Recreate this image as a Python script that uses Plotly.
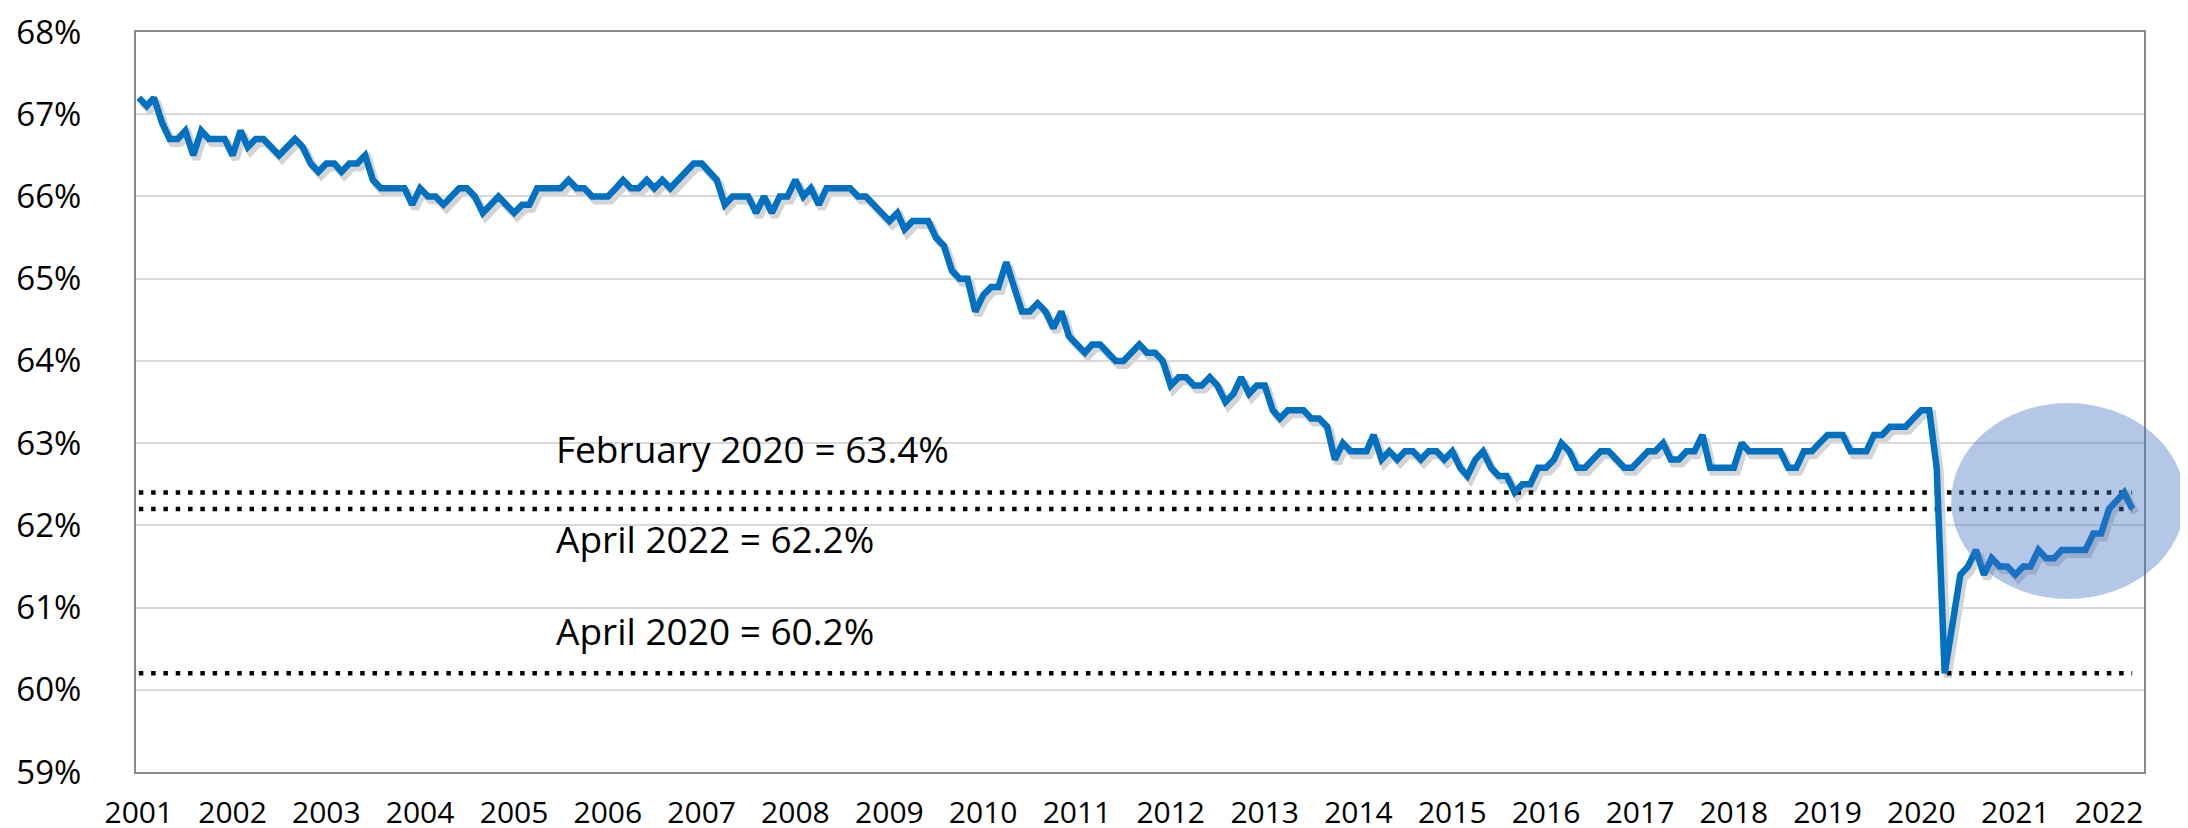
import pandas as pd
import plotly.graph_objects as go

# Labor force participation rate, monthly, Jan 2001 - Apr 2022 (%)
rate_2001 = [67.2, 67.1, 67.2, 66.9, 66.7, 66.7, 66.8, 66.5, 66.8, 66.7, 66.7, 66.7]
rate_2002 = [66.5, 66.8, 66.6, 66.7, 66.7, 66.6, 66.5, 66.6, 66.7, 66.6, 66.4, 66.3]
rate_2003 = [66.4, 66.4, 66.3, 66.4, 66.4, 66.5, 66.2, 66.1, 66.1, 66.1, 66.1, 65.9]
rate_2004 = [66.1, 66.0, 66.0, 65.9, 66.0, 66.1, 66.1, 66.0, 65.8, 65.9, 66.0, 65.9]
rate_2005 = [65.8, 65.9, 65.9, 66.1, 66.1, 66.1, 66.1, 66.2, 66.1, 66.1, 66.0, 66.0]
rate_2006 = [66.0, 66.1, 66.2, 66.1, 66.1, 66.2, 66.1, 66.2, 66.1, 66.2, 66.3, 66.4]
rate_2007 = [66.4, 66.3, 66.2, 65.9, 66.0, 66.0, 66.0, 65.8, 66.0, 65.8, 66.0, 66.0]
rate_2008 = [66.2, 66.0, 66.1, 65.9, 66.1, 66.1, 66.1, 66.1, 66.0, 66.0, 65.9, 65.8]
rate_2009 = [65.7, 65.8, 65.6, 65.7, 65.7, 65.7, 65.5, 65.4, 65.1, 65.0, 65.0, 64.6]
rate_2010 = [64.8, 64.9, 64.9, 65.2, 64.9, 64.6, 64.6, 64.7, 64.6, 64.4, 64.6, 64.3]
rate_2011 = [64.2, 64.1, 64.2, 64.2, 64.1, 64.0, 64.0, 64.1, 64.2, 64.1, 64.1, 64.0]
rate_2012 = [63.7, 63.8, 63.8, 63.7, 63.7, 63.8, 63.7, 63.5, 63.6, 63.8, 63.6, 63.7]
rate_2013 = [63.7, 63.4, 63.3, 63.4, 63.4, 63.4, 63.3, 63.3, 63.2, 62.8, 63.0, 62.9]
rate_2014 = [62.9, 62.9, 63.1, 62.8, 62.9, 62.8, 62.9, 62.9, 62.8, 62.9, 62.9, 62.8]
rate_2015 = [62.9, 62.7, 62.6, 62.8, 62.9, 62.7, 62.6, 62.6, 62.4, 62.5, 62.5, 62.7]
rate_2016 = [62.7, 62.8, 63.0, 62.9, 62.7, 62.7, 62.8, 62.9, 62.9, 62.8, 62.7, 62.7]
rate_2017 = [62.8, 62.9, 62.9, 63.0, 62.8, 62.8, 62.9, 62.9, 63.1, 62.7, 62.7, 62.7]
rate_2018 = [62.7, 63.0, 62.9, 62.9, 62.9, 62.9, 62.9, 62.7, 62.7, 62.9, 62.9, 63.0]
rate_2019 = [63.1, 63.1, 63.1, 62.9, 62.9, 62.9, 63.1, 63.1, 63.2, 63.2, 63.2, 63.3]
rate_2020 = [63.4, 63.4, 62.7, 60.2, 60.8, 61.4, 61.5, 61.7, 61.4, 61.6, 61.5, 61.5]
rate_2021 = [61.4, 61.5, 61.5, 61.7, 61.6, 61.6, 61.7, 61.7, 61.7, 61.7, 61.9, 61.9]
rate_2022 = [62.2, 62.3, 62.4, 62.2]

rate = (rate_2001 + rate_2002 + rate_2003 + rate_2004 + rate_2005 + rate_2006 +
        rate_2007 + rate_2008 + rate_2009 + rate_2010 + rate_2011 + rate_2012 +
        rate_2013 + rate_2014 + rate_2015 + rate_2016 + rate_2017 + rate_2018 +
        rate_2019 + rate_2020 + rate_2021 + rate_2022)
months = pd.date_range("2001-01-01", periods=len(rate), freq="MS")

# Reference (dotted) levels and their labels
ref_levels = [62.4, 62.2, 60.2]
ref_labels = ["February 2020 = 63.4%", "April 2022 = 62.2%", "April 2020 = 60.2%"]
label_y = [62.93, 61.84, 60.72]

year_ticks = pd.date_range("2001-01-01", "2022-01-01", freq="YS")
year_labels = [str(d.year) for d in year_ticks]
pct_ticks = list(range(59, 69))
pct_labels = [f"{v}%" for v in pct_ticks]

FONT = "Open Sans"
BLUE = "#0070C0"

W_FIG, H_FIG = 2188, 828
ML, MT = 128, 24
MR, MB = 49, 60
PW = W_FIG - ML - MR
PH = H_FIG - MT - MB
dx = 3.0 / PW
dy = 4.0 / PH

x_range = ["2000-12-21", "2022-05-17"]
y_range = [58.9999, 68.0001]

fig = go.Figure()

# soft shadow of the main line, drawn on hidden, slightly offset axes (x / y)
fig.add_trace(go.Scatter(
    x=months, y=rate, mode="lines", xaxis="x", yaxis="y",
    line=dict(color="rgba(60,60,60,0.22)", width=8),
    hoverinfo="skip", showlegend=False))

# main chart on axes x2 / y2 (drawn above the shadow subplot)
for lvl in ref_levels:
    fig.add_trace(go.Scatter(
        x=months, y=[lvl] * len(months), mode="lines", xaxis="x2", yaxis="y2",
        line=dict(color="black", width=4.5, dash="4.5px,7.8px"),
        hoverinfo="skip", showlegend=False))

fig.add_trace(go.Scatter(
    x=months, y=rate, mode="lines", xaxis="x2", yaxis="y2",
    line=dict(color=BLUE, width=6.5),
    showlegend=False))

for txt, yv in zip(ref_labels, label_y):
    fig.add_annotation(
        text=txt, x=0.208, xref="x2 domain", y=yv, yref="y2",
        xanchor="left", yanchor="middle", showarrow=False,
        font=dict(family=FONT, size=37, color="black"))

fig.add_shape(
    type="circle", xref="x2 domain", yref="y2 domain",
    x0=0.904, x1=1.0204, y0=0.2338, y1=0.4986,
    fillcolor="rgba(68,114,196,0.4)", line=dict(width=0), layer="above")

fig.update_layout(
    width=W_FIG, height=H_FIG,
    margin=dict(l=ML, r=MR, t=MT, b=MB, pad=0),
    paper_bgcolor="white", plot_bgcolor="rgba(0,0,0,0)",
    showlegend=False,
    xaxis=dict(domain=[dx, 1], range=x_range, type="date", visible=False,
               anchor="y", automargin=False),
    yaxis=dict(domain=[0, 1 - dy], range=y_range, visible=False,
               anchor="x", automargin=False),
    xaxis2=dict(
        domain=[0, 1 - dx], range=x_range, type="date", anchor="y2",
        tickvals=year_ticks, ticktext=year_labels,
        showgrid=False, zeroline=False, automargin=False,
        showline=True, linecolor="#898989", linewidth=2, mirror=True,
        ticks="", ticklabelstandoff=13, ticklabeloverflow="allow",
        tickfont=dict(family=FONT, size=30, color="black")),
    yaxis2=dict(
        domain=[dy, 1], range=y_range, anchor="x2",
        tickvals=pct_ticks, ticktext=pct_labels,
        showgrid=True, gridcolor="#D9D9D9", gridwidth=1.5, zeroline=False,
        automargin=False,
        showline=True, linecolor="#898989", linewidth=2, mirror=True,
        ticks="", ticklabelstandoff=46, ticklabeloverflow="allow",
        tickfont=dict(family=FONT, size=33, color="black")),
)

fig.write_html("out.html")
